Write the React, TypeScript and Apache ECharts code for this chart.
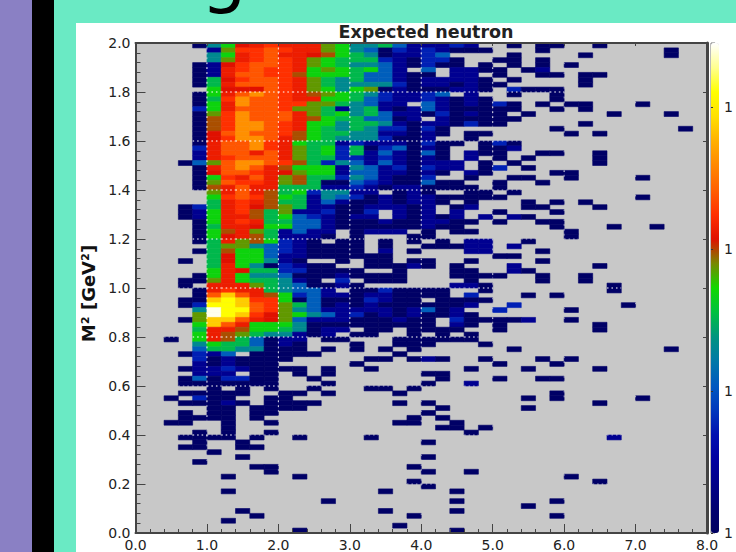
import React, { useEffect, useRef } from "react";
import * as echarts from "echarts";

const titleText = "Expected neutron";
const yTitle = "M² [GeV²]";
const xMax = 8;
const yMax = 2;
const binX = 0.2;
const binY = 0.02;
const logMax = 3.45;

// 21 colours, evenly spaced along the colour bar
const palette = ["#000060","#000070","#000088","#0000a0","#0010b0","#0038bc","#0058c0","#0078a8","#009480","#00c040","#10d800","#788800","#e01000","#ff3000","#ff6000","#ff8800","#ffb000","#ffe000","#ffff00","#ffff90","#ffffff"];

const levelSymbols = "0123456789abcdefgh";
const levelValues = [0.07,0.41,0.76,1.07,1.31,1.52,1.69,1.86,1.98,2.07,2.14,2.24,2.38,2.62,3.07,3.42,2.86,3.1];

// Rows from the top (M2 = 2.0) to the bottom (M2 = 0.0); 40 columns from 0.0 to 8.0
const rowsTop = [
"....0 469ab aaa76 44531 1121. .0.00 ..0.. .....",
"..... 17bbc baa76 43021 21000 ...0. ..... ..0..",
"..... 46abc aa986 54011 23... .0... .0... ..0..",
"..... 47abc ba765 55210 220.. 00.0. ..... .....",
"....0 19bcc ba765 44310 200.0 .0.0. 0.... .....",
"....0 1abcb ba676 5631. 3.110 0.01. ..... .....",
"....0 1accb b8666 53310 0.11. 0..00 .00.. .....",
"....0 59bcc ba754 53310 11110 .0... .0... .....",
"....0 5accc ba754 44420 11010 0.... .0... .....",
"..... 6999c ba764 67010 00110 .2000 ..... .....",
"....0 6acdc ba876 54211 23.1. .0..0 ..... .....",
"....0 5bdcc baa66 53211 21010 ....0 ..... .....",
"....0 6adcc bb775 4311. 31010 20.0. 00... 0....",
"....2 6accc b7751 45101 31000 00..0 .0... .....",
"....0 7bdcc ca756 45311 02010 0.0.. ...0. ..0..",
"....0 8bdcc ca865 53301 .1000 00... ..... .....",
"....0 8bddc ba664 55410 11020 0.... .0... .....",
"....0 8bddc ba654 54220 20... ....0 ..... ...0.",
"....0 9cdcc b8655 44110 10.00 ..... 0.0.. .....",
"....0 9bddc a8654 44200 1..0. ..... ..... .....",
"....0 accdb a6551 21110 200.0 20... ..... .....",
"....2 accdb a7562 50230 10..0 01... ..... .....",
"....1 accac a7562 51310 30.10 0..00 ..0.. .....",
"....1 abccc a7552 21210 10.1. 0.0.. ..0.. .....",
"...03 7cddc b8524 31310 111.0 .0... ..0.. .....",
"....0 acdca 86661 43120 211.0 2.0.. ..... .....",
"....0 9ccba 97661 33110 10.10 ....0 0.... .....",
"....0 6baca 78552 43100 2..0. .00.. 0.... 0....",
"....0 7cbba 78500 32100 300.. 0..0. ..... .....",
"....0 8acaa 55511 21011 0000. 0.... ..... .....",
"..... 7aca8 56244 11.01 0..00 .0... ..... .....",
"..... 6bcb8 65143 20101 10000 0.... ..... 0....",
"..... 5aba8 55131 00101 10.0. ..0.0 .0... .....",
"...02 5ab98 75110 01110 1.01. ..00. ..0.. .....",
"...01 6ab85 71120 02.10 1.1.. 0...0 ..... .....",
"...01 6aa85 63210 11.10 101.1 .10.. ..... .....",
"....0 6aba5 53310 00100 1100. 0..00 ..... .....",
"....0 5aa96 63310 00000 100.. ....0 ...0. .0...",
"....0 68a75 1311. 0111. 0.00. ..... 0.... .....",
"....0 69a85 1110. 0...0 0.... ..... 0.... .....",
"....0 5a786 210.0 0.0.0 .0.11 ..0.. ..... .....",
"..... 57743 21000 0.0.. 00011 .1... ..... .....",
"....0 58663 21000 0.1.0 ...11 ...0. ..... .....",
"..... 59663 11000 000.. ..... 00... ..... .....",
"...0. 59664 10..0 .00.0 0..0. ...0. ..... .....",
"..... 5a640 2100. .0001 0.0.. .1... ..0.. .....",
"..... 6a955 22000 0..0. ..00. .10.. ..... .....",
"....0 6a644 30001 0000. ..000 0..0. .0... .....",
"...00 7a655 410.2 .000. ...0. ...0. .0... .....",
"...0. aaa75 43001 0.... ..110 ..... ...0. .....",
];

const rowsBottom = [
"....0 abaa5 4331. 00200 00..0 ..... ...0. .....",
"....0 cgca8 62311 01100 00.2. ..0.0 ..... .....",
"...00 ghgbb 60300 02100 .0000 ..... ..... .....",
"...02 hhgcb 75301 01000 0001. .2... ....0 .....",
"....4 fhhcb 74311 11101 301.. 2.... 0.... .....",
"....7 fhgb9 76431 20101 0010. ..... ..... .....",
"...07 ggca9 73111 00010 0.200 001.. 0.... .....",
"....6 gca66 64000 00000 0.10. 0.... ..0.. .....",
"....5 aa866 54011 .00.0 000.. 0.... ..0.. .....",
"....6 a8754 4101. 00..0 .0.0. ..... ..... .....",
"..0.6 a8530 11.00 ...00 0000. ..... ..... .....",
"....4 65530 10... 0..00 0...0 ..... ..... .....",
"....3 55440 00.0. 0.0.0 ..... .0... ..... ..0..",
"...02 13.00 000.. ...0. ..... ..... ..... .....",
"....2 01000 0.... .00.0 10..0 ...0. 0.... .....",
"....1 01000 ..... 0.... ..... 0...0 ..... .....",
"...01 12100 00.0. .0... ...0. ..0.. ..0.. .....",
"....1 11.00 .0.0. ..... 00... ..... ..... .....",
"...03 02200 ..0.. ..... .0... 0..00 ..... .....",
"...00 00000 ...0. ..... 0..1. ..... ..... .....",
"..... 0.0.0 ..0.. .00.0 ..... ..... ..... .....",
"...00 000.. 00.0. ...0. ..... ....0 ..... .....",
"..0.2 00..0 0.... ..... ..... ..0.0 ..... 0....",
"...00 010.0 000.. ...0. 0.... ..... ..0.. .....",
"..... 00.00 00... ..... .0... ..0.. ..... .....",
"...0. 00.00 ..... ..... 0.... ..... ..... .....",
"...00 00.0. ..... ....0 .0... ..... ..... .....",
"..00. .0..0 ..... ...00 ..0.. ..... ..... .....",
"..... .0... ..... ..... .00.0 ..... ..... .....",
"....0 .0..0 ..... ..... ...0. ..... ..... .....",
"...00 00.0. .0... .0... ..... ..... ...1. .....",
"....0 ..0.. ..... ..... 0.... ..... ..... .....",
"...00 ..00. ..... ..... ..... ..... ..... .....",
"..... 0.... ..... ..... ..... ..... ..... .....",
"..... ..0.. ..... ..... 0.... ..... ..... .....",
"....0 ..... ..... ..... ..... ..... ..... .....",
"..... ...00 ..... ....0 ..... ..... ..... .....",
"..... ....0 ..... ..... 0..0. ..... ..... .....",
"..... .0... .0... ..... ..... ..... 0.... .....",
"..... ..... ..... ....0 ..... ..... ..0.. .....",
"..... ..... ..... ..... 0.... ..... ..... .....",
"..... .0... ..... ..0.. ..0.. ..... ..... .....",
"..... ..... ..... ..... ..... ..... ..... .....",
"..... ..... ...0. ..... ..0.. ....0 ..... .....",
"..... ..... ..... ..... ..... ..0.. ..... .....",
"..... ..0.. ..... ..0.. ..0.. ..... ..... .....",
"..... ...0. ..... ....0 ..... ....0 ..... .....",
"..... .0... ..... ..... ..... ..... ..... .....",
"..... ..... ..... ...0. ..... ..... ..... .....",
"..... ..... .0... ..... ..0.. ..... ..... .....",
];

const allRows = [...rowsTop, ...rowsBottom];
const cells: number[][] = [];
allRows.forEach((text, i) => {
  const row = allRows.length - 1 - i;
  text.replace(/ /g, "").split("").forEach((ch, col) => {
    const lvl = levelSymbols.indexOf(ch);
    if (lvl >= 0) cells.push([col * binX, row * binY, levelValues[lvl], col, row]);
  });
});

const PURPLE = "#8a80c4";
const TEAL = "#6aeac4";
const DARK = "#444444";
const FONT = "DejaVu Sans";

function renderCell(params: any, api: any) {
  const x = api.value(0), y = api.value(1), col = api.value(3), row = api.value(4);
  const a = api.coord([x, y + binY]);
  const b = api.coord([x + binX, y]);
  const fill = api.visual("color");
  const children: any[] = [{
    type: "rect",
    shape: { x: a[0], y: a[1], width: b[0] - a[0], height: b[1] - a[1] },
    style: { fill, stroke: fill, lineWidth: 0.6 },
  }];
  const dash = { stroke: "#ffffff", lineWidth: 1, lineDash: [1.5, 3], opacity: 0.6 };
  if (row % 10 === 0 && row > 0) children.push({ type: "line", z2: 5, shape: { x1: a[0], y1: b[1], x2: b[0], y2: b[1] }, style: dash });
  if ((row + 1) % 10 === 0 && row < 99) children.push({ type: "line", z2: 5, shape: { x1: a[0], y1: a[1], x2: b[0], y2: a[1] }, style: dash });
  if (col % 5 === 0 && col > 0) children.push({ type: "line", z2: 5, shape: { x1: a[0], y1: a[1], x2: a[0], y2: b[1] }, style: dash });
  if ((col + 1) % 5 === 0 && col < 39) children.push({ type: "line", z2: 5, shape: { x1: b[0], y1: a[1], x2: b[0], y2: b[1] }, style: dash });
  return { type: "group", children };
}

export default function App() {
  const ref = useRef<HTMLDivElement>(null);
  useEffect(() => {
    document.body.style.margin = "0";
    const chart = echarts.init(ref.current!, null, { renderer: "svg" });
    const label = { color: "#222222", fontFamily: FONT, fontSize: 14 };
    chart.setOption({
      animation: false,
      backgroundColor: "#ffffff",
      textStyle: { fontFamily: FONT },
      title: {
        text: titleText,
        left: 421,
        top: 18,
        textAlign: "center",
        padding: 5,
        textStyle: { fontFamily: FONT, fontWeight: "bold", fontSize: 17.5, color: "#222222" },
      },
      graphic: {
        elements: [
          { type: "rect", z: -10, silent: true, shape: { x: 0, y: 0, width: 736, height: 23 }, style: { fill: TEAL } },
          { type: "rect", z: -10, silent: true, shape: { x: 54, y: 0, width: 22, height: 552 }, style: { fill: TEAL } },
          { type: "rect", z: -9, silent: true, shape: { x: 0, y: 0, width: 32, height: 552 }, style: { fill: PURPLE } },
          { type: "rect", z: -9, silent: true, shape: { x: 32, y: 0, width: 22, height: 552 }, style: { fill: "#000000" } },
          { type: "text", z: -8, silent: true, style: { text: "g", x: 201, y: -62, fontFamily: FONT, fontSize: 72, fill: "#000000" } },
        ],
      },
      grid: [
        { left: 135.5, top: 43, width: 571.5, height: 490, show: true, backgroundColor: "#c8c8c8", borderWidth: 0 },
        { left: 711, top: 43, width: 8, height: 490, show: true, backgroundColor: "transparent", borderColor: "#777777", borderWidth: 1 },
      ],
      xAxis: [
        {
          type: "value", gridIndex: 0, position: "bottom", min: 0, max: xMax, interval: 1, z: 5,
          axisLine: { show: true, onZero: false, lineStyle: { color: DARK, width: 2 } },
          axisTick: { show: true, inside: true, length: 9, lineStyle: { color: DARK } },
          minorTick: { show: true, splitNumber: 5, length: 4, lineStyle: { color: DARK } },
          axisLabel: { ...label, margin: 5, formatter: (v: number) => v.toFixed(1) },
          splitLine: { show: false },
        },
        {
          type: "value", gridIndex: 0, position: "top", min: 0, max: xMax, interval: 1, z: 5,
          axisLine: { show: true, onZero: false, lineStyle: { color: DARK, width: 2 } },
          axisTick: { show: true, inside: true, length: 3, lineStyle: { color: DARK } },
          axisLabel: { show: false },
          splitLine: { show: false },
        },
        { type: "value", gridIndex: 1, min: 0, max: 1, show: false },
      ],
      yAxis: [
        {
          type: "value", gridIndex: 0, position: "left", min: 0, max: yMax, interval: 0.2, z: 5,
          name: yTitle, nameLocation: "middle", nameGap: 38, nameRotate: 90,
          nameTextStyle: { fontFamily: FONT, fontWeight: "bold", fontSize: 18, color: "#111111", padding: [0, 11, 0, 0] },
          axisLine: { show: true, onZero: false, lineStyle: { color: DARK, width: 2 } },
          axisTick: { show: true, inside: true, length: 10, lineStyle: { color: DARK } },
          minorTick: { show: true, splitNumber: 5, length: 5, lineStyle: { color: DARK } },
          axisLabel: { ...label, margin: 5, formatter: (v: number) => v.toFixed(1) },
          splitLine: { show: false },
        },
        {
          type: "value", gridIndex: 0, position: "right", min: 0, max: yMax, interval: 0.2, z: 5,
          axisLine: { show: true, onZero: false, lineStyle: { color: DARK, width: 3 } },
          axisTick: { show: true, inside: true, length: 4, lineStyle: { color: DARK } },
          axisLabel: { show: false },
          splitLine: { show: false },
        },
        {
          type: "value", gridIndex: 1, position: "right", min: 0, max: logMax, interval: 1, z: 5,
          axisLine: { show: false },
          axisTick: { show: true, inside: false, length: 2, lineStyle: { color: "#333333" } },
          axisLabel: { ...label, margin: 9, showMaxLabel: false, formatter: () => "1" },
          splitLine: { show: false },
        },
      ],
      visualMap: {
        type: "continuous",
        seriesIndex: 0,
        dimension: 2,
        min: 0,
        max: logMax,
        calculable: false,
        hoverLink: false,
        show: true,
        left: 711,
        top: 43,
        padding: 0,
        itemWidth: 8,
        itemHeight: 490,
        text: ["", ""],
        textGap: 0,
        inRange: { color: palette },
      },
      series: [
        {
          type: "custom",
          coordinateSystem: "cartesian2d",
          xAxisIndex: 0,
          yAxisIndex: 0,
          data: cells,
          encode: { x: 0, y: 1 },
          renderItem: renderCell,
          clip: true,
          silent: true,
        },
      ],
    });
    return () => chart.dispose();
  }, []);
  return <div ref={ref} style={{ width: 736, height: 552, position: "fixed", left: 0, top: 0 }} />;
}
